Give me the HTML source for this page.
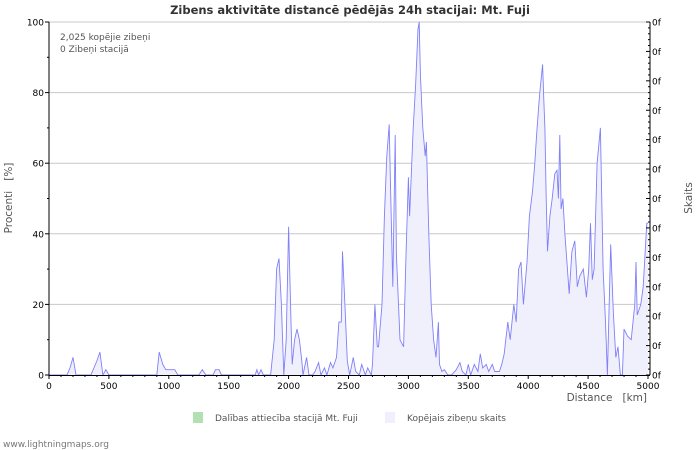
<!DOCTYPE html>
<html><head><meta charset="utf-8">
<style>
body{margin:0;background:#fff;font-family:"Liberation Sans","DejaVu Sans",sans-serif;}
svg{display:block}
text{font-family:"DejaVu Sans","Liberation Sans",sans-serif;white-space:pre;}
</style></head>
<body>
<svg id="chart" width="700" height="450" viewBox="0 0 700 450" xmlns="http://www.w3.org/2000/svg">
<rect width="700" height="450" fill="#fff"/>
<text x="350" y="14" text-anchor="middle" font-size="11.5" font-weight="bold" fill="#333">Zibens aktivitāte distancē pēdējās 24h stacijai: Mt. Fuji</text>
<g id="grid"></g>
<g id="series"></g>
<g id="axes"></g>
<text x="60" y="40" font-size="9" fill="#555">2,025 kopējie zibeņi</text>
<text x="60" y="52" font-size="9" fill="#555">0 Zibeņi stacijā</text>
<text x="12" y="198" font-size="10.5" fill="#555" text-anchor="middle" transform="rotate(-90 12 198)">Procenti&#160;&#160;&#160;[%]</text>
<text x="692" y="198" font-size="10.5" fill="#555" text-anchor="middle" transform="rotate(-90 692 198)">Skaits</text>
<text x="647" y="401" font-size="10.5" fill="#555" text-anchor="end">Distance&#160;&#160;&#160;[km]</text>
<rect x="193" y="412" width="10" height="11" fill="#b3e0b3"/>
<text x="215" y="421" font-size="9" fill="#555">Dalības attiecība stacijā Mt. Fuji</text>
<rect x="385" y="412" width="10" height="11" fill="#f0f0fc"/>
<text x="407" y="421" font-size="9" fill="#555">Kopējais zibeņu skaits</text>
<text x="3" y="447" font-size="9" fill="#777">www.lightningmaps.org</text>
</svg>
<script>
const distances=[0,150,175,200,225,350,400,425,450,475,500,900,920,950,975,1050,1075,1250,1280,1310,1370,1390,1420,1440,1720,1735,1750,1770,1790,1850,1880,1900,1920,1940,1960,1980,2000,2020,2030,2050,2070,2090,2110,2120,2150,2170,2200,2220,2250,2270,2300,2320,2350,2370,2400,2420,2440,2450,2470,2490,2510,2540,2560,2590,2610,2640,2660,2690,2700,2720,2740,2750,2780,2800,2820,2840,2850,2870,2890,2900,2930,2960,2980,3000,3010,3040,3060,3080,3090,3100,3120,3140,3150,3170,3190,3210,3230,3250,3260,3280,3300,3330,3360,3400,3430,3450,3480,3500,3520,3550,3580,3600,3620,3650,3670,3700,3720,3760,3780,
3800,3830,3850,3880,3900,3920,3940,3960,3990,4010,4036,4055,4070,4085,4097,4120,4130,4139,4150,4161,4181,4200,4222,4240,4252,4264,4275,4290,4306,4342,4365,4389,4410,4430,4460,4486,4505,4520,4535,4550,4575,4603,4625,4645,4661,4689,4710,4731,4750,4770,4786,4800,4830,4860,4890,4900,4910,4940,4960,4990,5000];
const percents=[0,0,2,5,0,0,4,6.5,0,1.5,0,0,6.5,3,1.5,1.5,0,0,1.5,0,0,1.5,1.5,0,0,1.5,0,1.5,0,0,10,30,33,20,0,10,42,15,3,10,13,10,4,0,5,0,0,1,3.5,0,2,0,3.5,2,5,15,15,35,20,4,0,5,1,0,3,0,2,0,3,20,8,8,20,45,62,71,55,25,68,34,10,8,34,56,45,70,82,98,100,85,70,62,66,40,20,10,5,15,3,1,1.5,0,0,1.5,3.5,1,0,3,0,3,1,6,2,3,1,3,1,1,3,
6,15,10,20,15,30,32,20,32,45,52,60,68,75,80,88,78,70,50,35,45,50,57,58,50,68,47,50,40,23,35,38,25,28,30,22,30,43,27,30,60,70,30,15,0,37,18,5,8,0,0,13,11,10,20,32,17,20,25,43,43];
const yTicks=[0,20,40,60,80,100];
const xTicks=[0,500,1000,1500,2000,2500,3000,3500,4000,4500,5000];
const rightTicks=[0,1,2,3,4,5,6,7,8,9,10,11,12];
const X0=49,X1=648,Y0=375,Y1=22;
const xs=d=>X0+(d/5000)*(X1-X0);
const ys=v=>Y0-(v/100)*(Y0-Y1);
const NS="http://www.w3.org/2000/svg";
function mk(tag,attrs,parent){const e=document.createElementNS(NS,tag);for(const k in attrs)e.setAttribute(k,attrs[k]);parent.appendChild(e);return e;}
const grid=document.getElementById('grid'),axes=document.getElementById('axes'),series=document.getElementById('series');
yTicks.forEach(v=>{
 if(v>0){const g=mk('line',{x1:X0,x2:X1,y1:ys(v),y2:ys(v),stroke:'#c8c8c8','stroke-width':1},grid);
 
 }
 const t=mk('text',{x:X0-5,y:ys(v)+3.5,'font-size':9,'text-anchor':'end',fill:'#000'},axes);t.textContent=v;
 
 
 mk('line',{x1:X0-4,x2:X0,y1:ys(v),y2:ys(v),stroke:'#000'},axes);
 if(v<100) mk('line',{x1:X0-2,x2:X0,y1:ys(v+10),y2:ys(v+10),stroke:'#000'},axes);
});
const n=Math.min(distances.length,percents.length);
let pts=[];for(let i=0;i<n;i++)pts.push(xs(distances[i]).toFixed(1)+','+ys(percents[i]).toFixed(1));
const area=mk('polygon',{points:xs(distances[0])+','+Y0+' '+pts.join(' ')+' '+xs(distances[n-1])+','+Y0,fill:'#f0f0fc',stroke:'none'},series);


const line=mk('polyline',{points:pts.join(' '),fill:'none',stroke:'#8080f8','stroke-width':0.9},series);


mk('line',{x1:X0,x2:X0,y1:Y1,y2:Y0,stroke:'#000'},axes);
mk('line',{x1:X0,x2:X1+2,y1:Y0+0.5,y2:Y0+0.5,stroke:'#000'},axes);
mk('line',{x1:X1+2,x2:X1+2,y1:Y1,y2:Y0,stroke:'#000'},axes);
for(let d=0;d<=5000;d+=100){mk('line',{x1:xs(d),x2:xs(d),y1:Y0,y2:Y0+(d%500==0?4:2),stroke:'#000'},axes);}
xTicks.forEach(d=>{const t=mk('text',{x:xs(d),y:Y0+14,'font-size':9,'text-anchor':'middle',fill:'#000'},axes);t.textContent=d;
 
 });
rightTicks.forEach(k=>{const y=Y0-k*(Y0-Y1)/12;
 mk('line',{x1:X1-2,x2:X1+2,y1:y,y2:y,stroke:'#000'},axes);
 if(k<12)for(let m=1;m<5;m++){const yy=y-m*(Y0-Y1)/60;mk('line',{x1:X1,x2:X1+2,y1:yy,y2:yy,stroke:'#000'},axes);}
 const t=mk('text',{x:X1+4,y:y+3.5,'font-size':9,fill:'#000'},axes);t.textContent='0f';
 
 });
</script>
</body></html>
